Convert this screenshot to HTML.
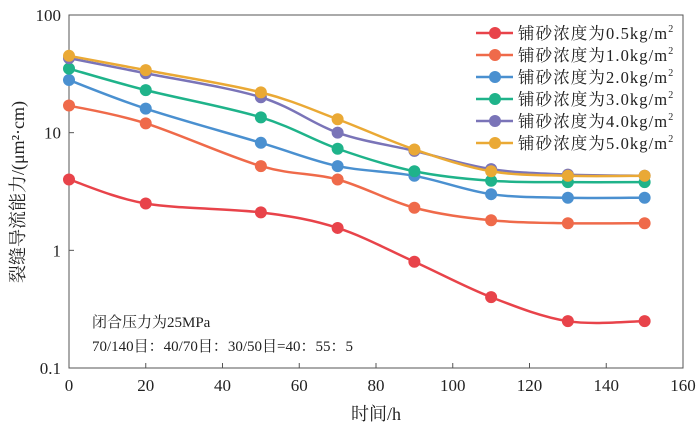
<!DOCTYPE html>
<html><head><meta charset="utf-8"><style>
body{margin:0;background:#fff}
svg text{font-family:"Liberation Serif","Noto Serif CJK SC",serif;fill:#222}
</style></head><body>
<svg id="c" width="700" height="432" xmlns="http://www.w3.org/2000/svg"></svg>
<script>
const xValues=[0,20,50,70,90,110,130,150];
const s05=[4.0,2.5,2.1,1.55,0.8,0.4,0.25,0.25];
const s10=[17,12,5.2,4.0,2.3,1.8,1.7,1.7];
const s20=[28,16,8.2,5.2,4.3,3.0,2.8,2.8];
const s30=[35,23,13.5,7.3,4.7,3.9,3.8,3.8];
const s40=[43,32,20,10,7.0,4.9,4.4,4.3];
const s50=[45,34,22,13,7.2,4.7,4.3,4.3];
const seriesLabels=["铺砂浓度为0.5kg/m","铺砂浓度为1.0kg/m","铺砂浓度为2.0kg/m","铺砂浓度为3.0kg/m","铺砂浓度为4.0kg/m","铺砂浓度为5.0kg/m"];
const xTicks=[0,20,40,60,80,100,120,140,160];
const yTicks=[0.1,1,10,100];
const yTickLabels=["0.1","1","10","100"];
const colors=["#e8434a","#ef6a4a","#4a90d0","#1fb38a","#7a74b8","#eaa935"];
const all=[s05,s10,s20,s30,s40,s50];
const L=69,R=683,T=15,B=368;
const X=v=>L+(v-0)/(160-0)*(R-L);
const Y=v=>B-(Math.log10(v)+1)/3*(B-T);
const svg=document.getElementById('c');
const NS="http://www.w3.org/2000/svg";
function mk(t,a,p){const e=document.createElementNS(NS,t);for(const k in a)e.setAttribute(k,a[k]);(p||svg).appendChild(e);return e;}
const frame=mk('rect',{x:L,y:T,width:R-L,height:B-T,fill:'none',stroke:'#555','stroke-width':1});


xTicks.forEach(v=>{
  const t=mk('line',{x1:X(v),x2:X(v),y1:B,y2:B-5,stroke:'#555'});
  
  
  const tx=mk('text',{x:X(v),y:B+23,'text-anchor':'middle','font-size':17});
  tx.textContent=v;
  
  
});
yTicks.forEach((v,i)=>{
  const t=mk('line',{x1:L,x2:L+5,y1:Y(v),y2:Y(v),stroke:'#555'});
  
  
  const tx=mk('text',{x:L-8,y:Y(v)+6,'text-anchor':'end','font-size':17});
  tx.textContent=yTickLabels[i];
  
  
});
function smooth(pts){let d=`M${pts[0][0]},${pts[0][1]}`;for(let i=0;i<pts.length-1;i++){const p0=pts[i-1]||pts[i],p1=pts[i],p2=pts[i+1],p3=pts[i+2]||p2;const c1=[p1[0]+(p2[0]-p0[0])/6,p1[1]+(p2[1]-p0[1])/6],c2=[p2[0]-(p3[0]-p1[0])/6,p2[1]-(p3[1]-p1[1])/6];d+=`C${c1[0]},${c1[1]} ${c2[0]},${c2[1]} ${p2[0]},${p2[1]}`;}return d;}
all.forEach((s,si)=>{
  const g=mk('g',{});
  
  
  const pts=s.map((v,i)=>[X(xValues[i]),Y(v)]);
  const p=mk('path',{d:smooth(pts),fill:'none',stroke:colors[si],'stroke-width':2.5},g);
  
  
  pts.forEach(q=>{const c=mk('circle',{cx:q[0],cy:q[1],r:6,fill:colors[si]},g);
    
    });
});
seriesLabels.forEach((lab,i)=>{
  const y=33+i*22;
  const g=mk('g',{});
  
  
  mk('line',{x1:476,x2:513,y1:y,y2:y,stroke:colors[i],'stroke-width':2.5},g);
  mk('circle',{cx:495,cy:y,r:6,fill:colors[i]},g);
  const t=mk('text',{x:518,y:y+6,'font-size':16.5,'letter-spacing':1.1},g);
  t.textContent=lab;
  const sup=mk('tspan',{dy:-7,'font-size':10},t);sup.textContent='2';
});
function txt(s,a,name){const t=mk('text',a);t.textContent=s;return t;}
txt('闭合压力为25MPa',{x:92,y:327,'font-size':15},'annotation-pressure');
txt('70/140目：40/70目：30/50目=40：55：5',{x:92,y:351,'font-size':15},'annotation-ratio');
txt('时间/h',{x:376,y:420,'text-anchor':'middle','font-size':18},'x-axis-title');
txt('裂缝导流能力/(μm²·cm)',{x:0,y:0,'text-anchor':'middle','font-size':18,transform:'translate(24,192) rotate(-90)'},'y-axis-title');
</script>
</body></html>
